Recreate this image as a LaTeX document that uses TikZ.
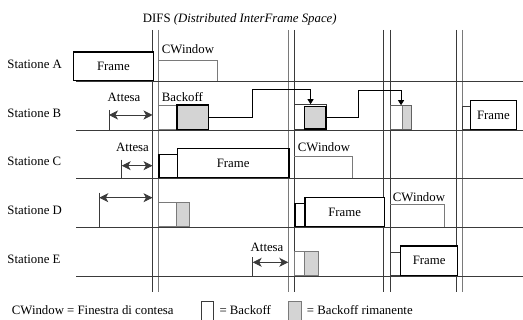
\documentclass[tikz,border=0pt]{standalone}
\usepackage{fontspec}
\setmainfont{Liberation Serif}
\usetikzlibrary{arrows.meta, positioning, calc}
\definecolor{tline}{HTML}{3A3A3A}
\definecolor{tgray}{HTML}{7A7A7A}
\definecolor{tfill}{HTML}{D4D4D4}
\tikzset{
  sz/.style n args={2}{minimum width=#1pt, minimum height=#2pt},
  fbox/.style={draw=black, line width=1.2pt, fill=white, inner sep=0pt, anchor=south west},
  sbox/.style={draw=tline, line width=0.8pt, fill=white, inner sep=0pt, anchor=south west},
  bkbox/.style={draw=tgray, line width=0.8pt, fill=white, inner sep=0pt, anchor=south west},
  remb/.style={draw=black, line width=1.6pt, fill=tfill, inner sep=0pt, anchor=south west},
  remt/.style={draw=tgray, line width=0.8pt, fill=tfill, inner sep=0pt, anchor=south west},
  cwin/.style={draw=tgray, line width=0.7pt},
  wait/.style={{Stealth[length=9pt,width=9pt,inset=2.5pt]}-{Stealth[length=9pt,width=9pt,inset=2.5pt]},
               line width=0.8pt, tline},
  link/.style={-{Triangle[length=5pt,width=6pt]}, line width=0.8pt, black},
}

\begin{document}
\begin{tikzpicture}[x=1pt, y=-1pt,
  font=\fontsize{12.8}{15}\selectfont,
  lbl/.style={inner sep=0pt, anchor=west},
  vline/.style={line width=0.8pt, tline},
  vlineg/.style={line width=0.8pt, tgray},
  base/.style={line width=0.7pt, tline}]
  \useasboundingbox (0,0) rectangle (523,320);
  % DIFS lines
  \coordinate (d1) at (152.5,30);
  \coordinate (d2) at (158.3,30);
  \coordinate (d3) at (288.3,30);
  \coordinate (d4) at (294.3,30);
  \coordinate (d5) at (383.3,30);
  \coordinate (d6) at (390.3,30);
  \coordinate (d7) at (456.7,30);
  \coordinate (d8) at (462.3,30);
  \draw[vline] (d1) -- ++(0,262);
  \draw[vlineg] (d2) -- ++(0,262);
  \draw[vlineg] (d3) -- ++(0,262);
  \draw[vline] (d4) -- ++(0,262);
  \draw[vline] (d5) -- ++(0,262);
  \draw[vline] (d6) -- ++(0,262);
  \draw[vline] (d7) -- ++(0,262);
  \draw[vlineg] (d8) -- ++(0,262);
  \node[lbl] (difs) at (142.7,19.3) {DIFS \textit{(Distributed InterFrame Space)}};

  % station rows
  \foreach \y/\s in {81.5/A, 130.3/B, 178.3/C, 227.3/D, 276/E} {
    \draw[base] (76,\y) -- (523,\y);
    \node[lbl] (st\s) at (7.3,\y-17) {Statione \s};
  }

  % A
  \node[fbox, sz={79.5}{28.8}] (fA) at (73,81.5) {Frame};
  \draw[cwin] (158.3,60) -| (217.3,81.5);
  \node[lbl] (cwA) at (161.7,49) {CWindow};

  % B
  \coordinate (tB) at (109,115);
  \draw[base] ([yshift=5pt]tB) -- (tB |- 0,130.3);
  \draw[wait] (tB) -- (tB -| d1);
  \node[lbl] (atB) at (107.5,97) {Attesa};
  \node[lbl] (bkB) at (161.7,97) {Backoff};
  \node[bkbox, sz={17.7}{24.3}] (bwB) at (158.3,130.3) {};
  \node[remb, sz={31.7}{24.3}] (bgB) at (176,130.3) {};
  \node[sbox, sz={31.7}{25.3}] (boB) at (294.3,130.3) {};
  \node[remb, sz={21.5}{22.3}] (bgB2) at (303.8,129.6) {};
  \node[remt, sz={9.3}{24.3}] (bgB3) at (401.7,130.3) {};
  \node[sbox, draw=tgray!80!black, sz={20.7}{24.3}, fill=none] (bB3) at (390.3,130.3) {};
  \draw[link] (bgB.east) -- ++(43,0) |- ([yshift=15pt]boB.north) -- (boB.north);
  \draw[link] (bgB2.east) -- ++(31.5,0) |- ([yshift=15pt]bB3.north) -- (bB3.north);
  \node[sbox, sz={7.7}{23.3}] (sbB) at (462.3,130.3) {};
  \node[fbox, sz={45.7}{29.3}] (fB) at (470,130.3) {Frame};

  % C
  \coordinate (tC) at (121.7,165.7);
  \draw[base] ([yshift=6pt]tC) -- (tC |- 0,178.3);
  \draw[wait] (tC) -- (tC -| d1);
  \node[lbl] (atC) at (116,147.3) {Attesa};
  \node[fbox, sz={18.4}{23.3}] (sbC) at (158.3,178.3) {};
  \node[fbox, sz={111.6}{29}] (fC) at (176.7,178.3) {Frame};
  \draw[cwin] (294.3,156) -| (352.3,178.3);
  \node[lbl] (cwC) at (297.7,146.7) {CWindow};

  % D
  \coordinate (tD) at (99.3,197.7);
  \draw[base] ([yshift=5pt]tD) -- (tD |- 0,227.3);
  \draw[wait] (tD) -- (tD -| d1);
  \node[bkbox, sz={17.4}{24.6}] (bwD) at (158.3,227.3) {};
  \node[remt, sz={13.6}{24.6}] (bgD) at (175.7,227.3) {};
  \node[fbox, sz={10}{23.3}] (sbD) at (294.3,227.3) {};
  \node[fbox, sz={79.4}{29}] (fD) at (304.3,227.3) {Frame};
  \draw[cwin] (390.3,204.7) -| (444.3,227.3);
  \node[lbl] (cwD) at (392.7,196.7) {CWindow};

  % E
  \coordinate (tE) at (252.7,262.3);
  \draw[base] ([yshift=5pt]tE) -- (tE |- 0,276);
  \draw[wait] (tE) -- (tE -| d3);
  \node[lbl] (atE) at (250.5,247.3) {Attesa};
  \node[bkbox, sz={10}{24.3}] (bwE) at (294.3,276) {};
  \node[remt, sz={14}{24.3}] (bgE) at (304.3,276) {};
  \node[sbox, sz={9.7}{23.3}] (sbE) at (390.3,276) {};
  \node[fbox, sz={57}{29.3}] (fE) at (400,276) {Frame};

  % legend
  \node[lbl] (lgCW) at (11.7,310) {CWindow = Finestra di contesa};
  \node[sbox, sz={12}{21}] (lgB) at (200.7,322.7) {};
  \node[lbl] (lgBt) at (219.3,310) {= Backoff};
  \node[remt, sz={12.7}{21}] (lgR) at (288.3,322.7) {};
  \node[lbl] (lgRt) at (306.7,310) {= Backoff rimanente};
\end{tikzpicture}
\end{document}
